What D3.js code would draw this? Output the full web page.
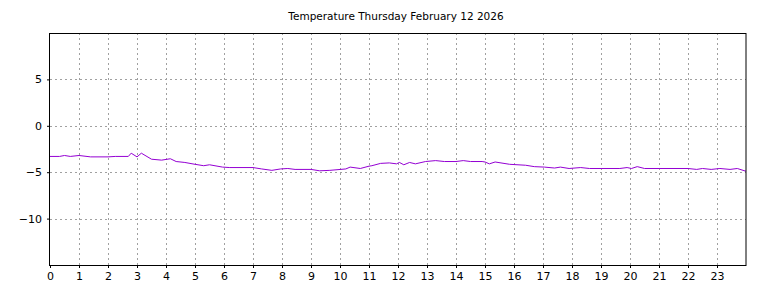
<!doctype html>
<html lang="en">
<head>
  <meta charset="utf-8">
  <style>
    body { margin: 0; background: #fff; }
    text { font-family: "DejaVu Sans", sans-serif; }
  </style>
</head>
<body>
  <script src="https://d3js.org/d3.v7.min.js"></script>
  <div id="chart"></div>
  <script>
    // readings: hour of day and temperature
    var hours = [0, 0.33, 0.5, 0.7, 1.0, 1.4, 2.0, 2.25, 2.7, 2.8, 3.0, 3.15, 3.5, 3.85, 4.15, 4.35, 4.65,
      5.0, 5.3, 5.5, 5.95, 6.2, 7.0, 7.3, 7.65, 7.95, 8.2, 8.45, 9.0, 9.3, 9.65, 10.2, 10.35, 10.7, 11.0,
      11.1, 11.4, 11.7, 11.95, 12.05, 12.2, 12.4, 12.6, 12.95, 13.3, 13.6, 14.0, 14.25, 14.5, 14.9, 15.0,
      15.15, 15.35, 15.85, 16.4, 16.7, 17.05, 17.4, 17.6, 17.9, 18.3, 18.6, 19.65, 19.9, 20.05, 20.25,
      20.5, 21.0, 22.0, 22.3, 22.5, 22.8, 23.1, 23.45, 23.7, 24.0];
    var temps = [-3.3, -3.3, -3.2, -3.3, -3.2, -3.35, -3.35, -3.3, -3.3, -2.95, -3.35, -2.95, -3.6, -3.7,
      -3.55, -3.85, -3.95, -4.15, -4.3, -4.2, -4.45, -4.5, -4.5, -4.65, -4.8, -4.65, -4.6, -4.7, -4.7,
      -4.85, -4.8, -4.65, -4.45, -4.6, -4.35, -4.3, -4.05, -4.0, -4.1, -3.95, -4.2, -3.95, -4.1, -3.85,
      -3.75, -3.85, -3.85, -3.75, -3.85, -3.85, -3.9, -4.1, -3.9, -4.15, -4.25, -4.4, -4.45, -4.55, -4.45,
      -4.6, -4.5, -4.6, -4.6, -4.5, -4.6, -4.4, -4.6, -4.6, -4.6, -4.7, -4.6, -4.7, -4.6, -4.7, -4.6, -4.9];
    var xTicks = d3.range(0, 24);
    var yTicks = [5, 0, -5, -10];
    var title = "Temperature Thursday February 12 2026";

    var width = 768, height = 288;
    var margin = { top: 33, right: 22, bottom: 23, left: 50 };

    var svg = d3.select("#chart").append("svg")
      .attr("width", width)
      .attr("height", height);

    var x = d3.scaleLinear().domain([0, 24]).range([margin.left, width - margin.right]);
    var y = d3.scaleLinear().domain([-15, 10]).range([height - margin.bottom, margin.top]);

    // grid
    svg.append("g").selectAll("line").data(xTicks.filter(d => d > 0))
      .enter().append("line")
      .attr("x1", d => Math.round(x(d)) + 0.5).attr("x2", d => Math.round(x(d)) + 0.5)
      .attr("y1", margin.top).attr("y2", height - margin.bottom)
      .style("stroke", "#a0a0a0").style("stroke-dasharray", "2,3");
    svg.append("g").selectAll("line").data(yTicks)
      .enter().append("line")
      .attr("y1", d => Math.round(y(d)) + 0.5).attr("y2", d => Math.round(y(d)) + 0.5)
      .attr("x1", margin.left).attr("x2", width - margin.right)
      .style("stroke", "#a0a0a0").style("stroke-dasharray", "2,3");

    // axes
    var xAxis = d3.axisBottom(x).tickValues(xTicks).tickSize(3).tickPadding(4).tickFormat(d3.format("d"));
    var yAxis = d3.axisLeft(y).tickValues(yTicks).tickSize(3).tickPadding(5).tickFormat(d3.format("d"));
    var gx = svg.append("g").attr("transform", "translate(0," + (height - margin.bottom) + ")").call(xAxis);
    var gy = svg.append("g").attr("transform", "translate(" + margin.left + ",0)").call(yAxis);
    [gx, gy].forEach(function (g) {
      g.select(".domain").remove();
      g.selectAll("text").style("font-size", "11px").style("fill", "#000").attr("font-family", "DejaVu Sans");
    });

    // temperature line
    var line = d3.line().x((d, i) => x(hours[i])).y(d => y(d));
    svg.append("path")
      .datum(temps)
      .attr("d", line)
      .style("fill", "none")
      .style("stroke", "#9400d3")
      .style("stroke-width", 1);

    // frame
    svg.append("rect")
      .attr("x", margin.left - 0.5).attr("y", margin.top + 0.5)
      .attr("width", width - margin.right - margin.left + 0.5)
      .attr("height", height - margin.bottom - margin.top)
      .style("fill", "none").style("stroke", "#000").style("stroke-width", 1);

    svg.append("text")
      .attr("x", (margin.left + width - margin.right) / 2 - 2)
      .attr("y", 20)
      .attr("text-anchor", "middle")
      .style("font-size", "10.5px")
      .text(title);
  </script>
</body>
</html>
